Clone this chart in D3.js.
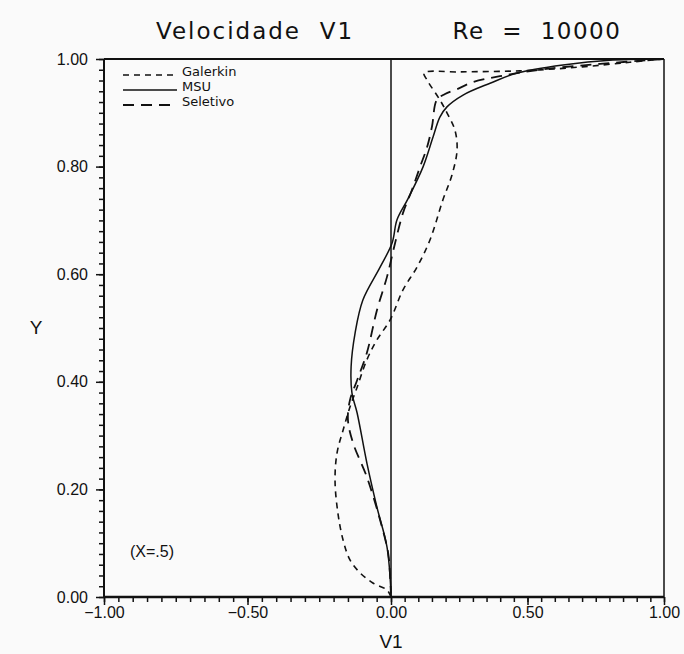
<!DOCTYPE html>
<html>
<head>
<meta charset="utf-8">
<script src="https://cdn.jsdelivr.net/npm/d3@7"></script>
<style>
  body { margin: 0; background: #fafafa; }
  svg { display: block; }
  text { fill: #111; white-space: pre; }
</style>
</head>
<body>
<div id="chart"></div>
<script>
// profile at X=.5
var galerkinV1 = [0, -0.014, -0.063, -0.108, -0.143, -0.167, -0.185, -0.195, -0.188, -0.167,
    -0.143, -0.118, -0.084, -0.049, -0.003, 0.044, 0.095, 0.143, 0.190, 0.223,
    0.242, 0.234, 0.205, 0.179, 0.132, 0.121, 0.253, 0.473, 0.692, 0.875, 1.0];
var galerkinY = [0, 0.013, 0.026, 0.045, 0.069, 0.106, 0.156, 0.217, 0.268, 0.310,
    0.353, 0.390, 0.441, 0.478, 0.515, 0.571, 0.613, 0.664, 0.738, 0.784,
    0.831, 0.868, 0.900, 0.924, 0.961, 0.974, 0.976, 0.978, 0.985, 0.994, 1.0];

var msuV1 = [0, -0.014, -0.049, -0.084, -0.118, -0.136, -0.139, -0.125, -0.098, -0.038,
    0.004, 0.022, 0.062, 0.117, 0.154, 0.179, 0.205, 0.264, 0.363, 0.462,
    0.630, 0.813, 1.0];
var msuY = [0.007, 0.093, 0.167, 0.249, 0.342, 0.379, 0.428, 0.491, 0.552, 0.613,
    0.658, 0.701, 0.740, 0.799, 0.855, 0.892, 0.911, 0.933, 0.955, 0.974,
    0.989, 0.998, 1.0];

var seletivoV1 = [0, -0.003, -0.010, -0.038, -0.084, -0.132, -0.150, -0.143, -0.118, -0.084,
    -0.049, -0.014, 0.015, 0.044, 0.077, 0.106, 0.132, 0.150, 0.168, 0.198,
    0.242, 0.300, 0.399, 0.546, 0.766, 1.0];
var seletivoY = [0, 0.037, 0.082, 0.143, 0.223, 0.286, 0.329, 0.366, 0.403, 0.454,
    0.533, 0.595, 0.658, 0.714, 0.757, 0.799, 0.836, 0.874, 0.924, 0.935,
    0.944, 0.957, 0.968, 0.980, 0.991, 1.0];

var seriesNames = ['Galerkin', 'MSU', 'Seletivo'];
var xMajorTicks = [-1, -0.5, 0, 0.5, 1];
var yMajorTicks = [0, 0.2, 0.4, 0.6, 0.8, 1];

var width = 684,
    height = 654;

var svg = d3.select('#chart')
    .append('svg')
        .attr('width', width)
        .attr('height', height);

// scanned plot is a little uneven, so x uses a piecewise scale
var x = d3.scaleLinear()
    .domain([-1, 0, 1])
    .range([104, 391, 664]);
var y = d3.scaleLinear()
    .domain([0, 1])
    .range([597, 59]);

var fmt = function(d) {
  return d3.format('.2f')(d).replace('-', '\u2212');
};

// minor ticks
svg.append('g')
    .attr('transform', 'translate(0,' + y(0) + ')')
    .call(d3.axisBottom(x)
        .tickValues(d3.range(-1, 1.001, 0.05))
        .tickSize(5)
        .tickFormat(''))
    .call(function(g) { g.select('.domain').remove(); });
svg.append('g')
    .attr('transform', 'translate(' + x(-1) + ',0)')
    .call(d3.axisLeft(y)
        .tickValues(d3.range(0, 1.001, 0.02))
        .tickSize(5)
        .tickFormat(''))
    .call(function(g) { g.select('.domain').remove(); });

// major ticks + labels
var xAxis = svg.append('g')
    .attr('transform', 'translate(0,' + y(0) + ')')
    .call(d3.axisBottom(x)
        .tickValues(xMajorTicks)
        .tickSize(8)
        .tickPadding(2)
        .tickFormat(fmt));
xAxis.select('.domain').remove();
xAxis.selectAll('text')
    .style('font-family', 'Liberation Sans, Arial, sans-serif')
    .style('font-size', '16px');

var yAxis = svg.append('g')
    .attr('transform', 'translate(' + x(-1) + ',0)')
    .call(d3.axisLeft(y)
        .tickValues(yMajorTicks)
        .tickSize(8)
        .tickPadding(8)
        .tickFormat(fmt));
yAxis.select('.domain').remove();
yAxis.selectAll('text')
    .style('font-family', 'Liberation Sans, Arial, sans-serif')
    .style('font-size', '16px');

svg.selectAll('.tick line')
    .attr('stroke', '#111')
    .attr('stroke-width', 1.5);

// frame
var frame = svg.append('g')
    .attr('fill', 'none')
    .attr('stroke', '#111');
frame.append('line')
    .attr('x1', x(-1)).attr('x2', x(1))
    .attr('y1', y(0)).attr('y2', y(0))
    .attr('stroke-width', 2.5);
frame.append('line')
    .attr('x1', x(-1)).attr('x2', x(-1))
    .attr('y1', y(0)).attr('y2', y(1))
    .attr('stroke-width', 2);
frame.append('line')
    .attr('x1', x(-1)).attr('x2', x(1))
    .attr('y1', y(1)).attr('y2', y(1))
    .attr('stroke-width', 2);
frame.append('line')
    .attr('x1', x(1)).attr('x2', x(1))
    .attr('y1', y(0)).attr('y2', y(1))
    .attr('stroke-width', 1.5);
// zero line
frame.append('line')
    .attr('x1', x(0)).attr('x2', x(0))
    .attr('y1', y(0)).attr('y2', y(1))
    .attr('stroke-width', 1.5);

// curves
var line = d3.line()
    .x(function(d) { return x(d[0]); })
    .y(function(d) { return y(d[1]); })
    .curve(d3.curveCatmullRom.alpha(0.5));

var series = [
  { name: 'Galerkin', v: galerkinV1, y: galerkinY, dash: '6,5', width: 1.6 },
  { name: 'MSU', v: msuV1, y: msuY, dash: null, width: 1.5 },
  { name: 'Seletivo', v: seletivoV1, y: seletivoY, dash: '11,7', width: 1.8 }
];

svg.append('g')
    .selectAll('path')
    .data(series)
    .enter()
    .append('path')
        .attr('d', function(s) { return line(d3.zip(s.v, s.y)); })
        .attr('fill', 'none')
        .attr('stroke', '#111')
        .attr('stroke-width', function(s) { return s.width; })
        .attr('stroke-dasharray', function(s) { return s.dash; });

// legend
var legend = svg.append('g')
    .attr('transform', 'translate(123,75)');
var legendItem = legend.selectAll('g')
    .data(series)
    .enter()
    .append('g')
        .attr('transform', function(s, i) { return 'translate(0,' + (i * 15) + ')'; });
legendItem.append('line')
    .attr('x1', 0).attr('x2', 54)
    .attr('y1', 0).attr('y2', 0)
    .attr('stroke', '#111')
    .attr('stroke-width', function(s) { return s.width; })
    .attr('stroke-dasharray', function(s) { return s.dash; });
legendItem.append('text')
    .attr('x', 59)
    .attr('dy', '0.05em')
    .style('font-family', 'DejaVu Sans, sans-serif')
    .style('font-size', '13px')
    .text(function(s, i) { return seriesNames[i]; });

// titles
svg.append('text')
    .attr('x', 255)
    .attr('y', 39)
    .attr('text-anchor', 'middle')
    .style('font-family', 'DejaVu Sans, sans-serif')
    .style('font-size', '23px')
    .style('letter-spacing', '2px')
    .text('Velocidade  V1');
svg.append('text')
    .attr('x', 537)
    .attr('y', 39)
    .attr('text-anchor', 'middle')
    .style('font-family', 'DejaVu Sans, sans-serif')
    .style('font-size', '23px')
    .style('letter-spacing', '1.5px')
    .text('Re  =  10000');

// axis names
svg.append('text')
    .attr('x', 36)
    .attr('y', 334)
    .attr('text-anchor', 'middle')
    .style('font-family', 'Liberation Sans, Arial, sans-serif')
    .style('font-size', '19px')
    .text('Y');
svg.append('text')
    .attr('x', x(0))
    .attr('y', 648)
    .attr('text-anchor', 'middle')
    .style('font-family', 'Liberation Sans, Arial, sans-serif')
    .style('font-size', '19px')
    .text('V1');

// position note
svg.append('text')
    .attr('x', 130)
    .attr('y', 557)
    .style('font-family', 'Liberation Sans, Arial, sans-serif')
    .style('font-size', '16px')
    .text('(X=.5)');
</script>
</body>
</html>
